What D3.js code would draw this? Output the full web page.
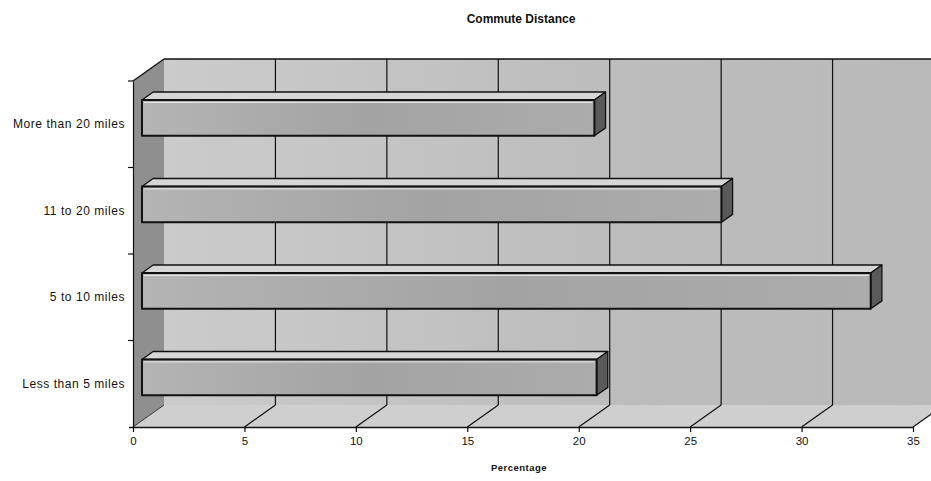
<!DOCTYPE html>
<html>
<head>
<meta charset="utf-8">
<script src="https://cdn.jsdelivr.net/npm/d3@7"></script>
<style>
  html, body { margin: 0; padding: 0; background: #fff; }
  svg { display: block; font-family: Arial, "Liberation Sans", sans-serif; }
</style>
</head>
<body>
<svg id="chart" width="931" height="481"></svg>
<script>
// Commute distance shares (percent), listed bottom to top
const categories = ["Less than 5 miles", "5 to 10 miles", "11 to 20 miles", "More than 20 miles"];
const percentages = [20.4, 32.7, 26.0, 20.3];
const xTickValues = [0, 5, 10, 15, 20, 25, 30, 35];
const chartTitle = "Commute Distance";
const xAxisTitle = "Percentage";

(function () {
const svg = d3.select("#chart");

// Front plane of the 3-D box
const plotLeft = 133, plotRight = 913, plotTop = 81, plotBottom = 427;
// Depth vector of the box (front plane -> back wall)
const depth = { dx: 31, dy: -22 };
// Bars sit between these depth fractions
const barFront = 0.29, barBack = 0.65;

const x = d3.scaleLinear().domain([0, 35]).range([plotLeft, plotRight]);
const y = d3.scaleBand().domain(categories.slice().reverse()).range([plotTop, plotBottom]).padding(0);
const barH = y.bandwidth() * 0.415;

const P = (px, py, f) => [px + depth.dx * f, py + depth.dy * f];
const poly = pts => "M" + pts.map(p => p.join(",")).join("L") + "Z";

// Shading
const defs = svg.append("defs");
const wallGrad = defs.append("linearGradient").attr("id", "wallGrad")
  .attr("x1", 0).attr("x2", 1).attr("y1", 0).attr("y2", 0);
wallGrad.append("stop").attr("offset", 0).attr("stop-color", "#cbcbcb");
wallGrad.append("stop").attr("offset", 0.55).attr("stop-color", "#bdbdbd");
wallGrad.append("stop").attr("offset", 1).attr("stop-color", "#b9b9b9");

const barGrad = defs.append("linearGradient").attr("id", "barGrad")
  .attr("x1", 0).attr("x2", 1).attr("y1", 0).attr("y2", 0);
barGrad.append("stop").attr("offset", 0).attr("stop-color", "#b4b4b4");
barGrad.append("stop").attr("offset", 0.5).attr("stop-color", "#a3a3a3");
barGrad.append("stop").attr("offset", 1).attr("stop-color", "#acacac");

const box = svg.append("g");

// Back wall
box.append("path")
  .attr("d", poly([P(x(0), plotTop, 1), P(x(35), plotTop, 1), P(x(35), plotBottom, 1), P(x(0), plotBottom, 1)]))
  .attr("fill", "url(#wallGrad)");
// Left side wall
box.append("path")
  .attr("d", poly([[x(0), plotTop], P(x(0), plotTop, 1), P(x(0), plotBottom, 1), [x(0), plotBottom]]))
  .attr("fill", "#8f8f8f");
// Floor
box.append("path")
  .attr("d", poly([[x(0), plotBottom], P(x(0), plotBottom, 1), P(x(35), plotBottom, 1), [x(35), plotBottom]]))
  .attr("fill", "#cfcfcf");

// Gridlines on the back wall and across the floor
const grid = box.append("g").attr("stroke", "#111").attr("stroke-width", 1.2).attr("fill", "none");
grid.selectAll("line.back").data(xTickValues.slice(1)).join("line")
  .attr("class", "back")
  .attr("x1", d => P(x(d), plotTop, 1)[0]).attr("y1", P(0, plotTop, 1)[1])
  .attr("x2", d => P(x(d), plotBottom, 1)[0]).attr("y2", P(0, plotBottom, 1)[1]);
grid.selectAll("line.floor").data(xTickValues.slice(1)).join("line")
  .attr("class", "floor")
  .attr("x1", d => x(d)).attr("y1", plotBottom)
  .attr("x2", d => P(x(d), plotBottom, 1)[0]).attr("y2", P(0, plotBottom, 1)[1]);

// Box edges
const edges = box.append("g").attr("stroke", "#111").attr("stroke-width", 1.4).attr("fill", "none");
edges.append("line")
  .attr("x1", P(x(0), plotTop, 1)[0]).attr("y1", P(0, plotTop, 1)[1])
  .attr("x2", P(x(35), plotTop, 1)[0]).attr("y2", P(0, plotTop, 1)[1]);
edges.append("line")
  .attr("x1", x(0)).attr("y1", plotTop)
  .attr("x2", P(x(0), plotTop, 1)[0]).attr("y2", P(0, plotTop, 1)[1]);
edges.append("line")
  .attr("x1", x(0)).attr("y1", plotBottom)
  .attr("x2", P(x(0), plotBottom, 1)[0]).attr("y2", P(0, plotBottom, 1)[1])
  .attr("stroke-width", 0.8);

// Bars: front face, top face and end face
const bars = svg.append("g").selectAll("g").data(categories.map((c, i) => ({ c, v: percentages[i] }))).join("g");
bars.each(function (d) {
  const g = d3.select(this);
  const cy = y(d.c) + y.bandwidth() / 2;
  const y0 = cy - barH / 2, y1 = cy + barH / 2;
  const x0 = x(0), x1 = x(d.v);
  const fTL = P(x0, y0, barFront), fTR = P(x1, y0, barFront), fBR = P(x1, y1, barFront), fBL = P(x0, y1, barFront);
  const bTL = P(x0, y0, barBack), bTR = P(x1, y0, barBack), bBR = P(x1, y1, barBack);
  g.append("path").attr("d", poly([fTL, bTL, bTR, fTR]))
    .attr("fill", "#d6d6d6").attr("stroke", "#111").attr("stroke-width", 1.3).attr("stroke-linejoin", "round");
  g.append("path").attr("d", poly([fTR, bTR, bBR, fBR]))
    .attr("fill", "#5a5a5a").attr("stroke", "#111").attr("stroke-width", 1.3).attr("stroke-linejoin", "round");
  g.append("path").attr("d", poly([fTL, fTR, fBR, fBL]))
    .attr("fill", "url(#barGrad)").attr("stroke", "#111").attr("stroke-width", 2).attr("stroke-linejoin", "round");
  // inner highlight line along the top of the front face
  g.append("line")
    .attr("x1", fTL[0] + 2).attr("y1", fTL[1] + 2.5).attr("x2", fTR[0] - 2).attr("y2", fTR[1] + 2.5)
    .attr("stroke", "#e8e8e8").attr("stroke-width", 1);
});

// Bottom value axis
const xAxis = svg.append("g").attr("transform", `translate(0,${plotBottom})`)
  .call(d3.axisBottom(x).tickValues(xTickValues).tickSize(5).tickSizeOuter(0).tickPadding(5));
xAxis.select(".domain").attr("stroke", "#111").attr("stroke-width", 1.3)
  .attr("d", `M${plotLeft - 4},0.5H${plotRight}`);
xAxis.selectAll(".tick line").attr("stroke", "#111").attr("stroke-width", 1.2);
xAxis.selectAll(".tick text").attr("font-size", 11.5).attr("fill", "#111")
  .attr("font-family", "Arial, 'Liberation Sans', sans-serif");

// Left category axis: labels at band centres, ticks at band edges
const yAxis = svg.append("g").attr("transform", `translate(${plotLeft},0)`)
  .call(d3.axisLeft(y).tickSize(0).tickPadding(8));
yAxis.select(".domain").attr("stroke", "#111").attr("stroke-width", 1.2);
yAxis.selectAll(".tick text").attr("font-size", 12).attr("fill", "#111")
  .attr("letter-spacing", "0.55px")
  .attr("font-family", "Arial, 'Liberation Sans', sans-serif");
yAxis.selectAll("line.edge").data(categories.slice().reverse()).join("line")
  .attr("class", "edge")
  .attr("x1", -5).attr("x2", 0)
  .attr("y1", d => y(d)).attr("y2", d => y(d))
  .attr("stroke", "#111").attr("stroke-width", 1.2);

// Titles
svg.append("text").attr("x", 521).attr("y", 23).attr("text-anchor", "middle")
  .attr("font-size", 12).attr("font-weight", "bold").attr("fill", "#111").text(chartTitle);
svg.append("text").attr("x", 519).attr("y", 471).attr("text-anchor", "middle")
  .attr("font-size", 9.5).attr("font-weight", "bold").attr("letter-spacing", "0.5px")
  .attr("fill", "#111").text(xAxisTitle);
})();
</script>
</body>
</html>
